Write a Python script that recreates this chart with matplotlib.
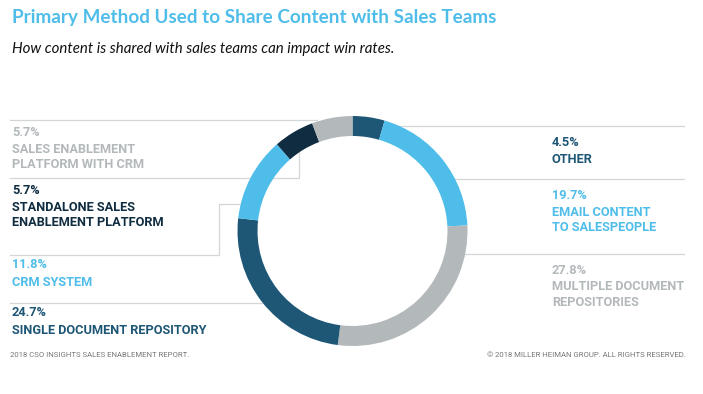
#!/usr/bin/env python3
import matplotlib
matplotlib.use('Agg')
import matplotlib.pyplot as plt

# — DATA —
labels  = ['OTHER', 'EMAIL CONTENT\nTO SALESPEOPLE', 'MULTIPLE DOCUMENT\nREPOSITORIES',
           'SINGLE DOCUMENT REPOSITORY', 'CRM SYSTEM',
           'STANDALONE SALES\nENABLEMENT PLATFORM', 'SALES ENABLEMENT\nPLATFORM WITH CRM']
values  = [4.5, 19.7, 27.8, 24.7, 11.8, 5.7, 5.7]

# — STYLE —
DARK  = '#1e5675'
LIGHT = '#4fbde9'
GREY  = '#b3b9bb'
NAVY  = '#0f2c40'
colors     = [DARK, LIGHT, GREY, DARK, LIGHT, NAVY, GREY]
LINE_C     = '#d3d7d9'
FONT       = 'Roboto'

# label anchors (x, y of percent line) and leader line paths, in pixels
label_pos = [(552, 142), (552, 195), (552, 270),
             (12, 313), (12, 265), (12, 190), (12, 132)]
leaders = [
    [(369, 126), (684, 126)],
    [(447, 179), (684, 179)],
    [(458, 254), (684, 254)],
    [(10, 303), (275, 303)],
    [(10, 255), (219, 255), (219, 204), (252, 204)],
    [(10, 178), (299, 178), (299, 142)],
    [(10, 120), (317, 120)],
]
CENTER = (352.5, 231)
R_OUT  = 115
RING_W = 20
# ————————

fig = plt.figure(figsize=(7.03, 3.94), dpi=100)
ax = fig.add_axes([0, 0, 1, 1])

ax.pie(values, colors=colors, center=CENTER, radius=R_OUT,
       startangle=-90, counterclock=True,
       wedgeprops=dict(width=RING_W, linewidth=0))

ax.set_xlim(0, 703)
ax.set_ylim(394, 0)
ax.set_aspect('equal')
ax.axis('off')

for path in leaders:
    xs, ys = zip(*path)
    ax.plot(xs, ys, color=LINE_C, lw=0.9, zorder=0)

for lab, val, col, (x, y) in zip(labels, values, colors, label_pos):
    ax.text(x, y, f'{val:.1f}%', color=col, fontsize=9.2, fontweight='bold',
            family=FONT, va='center', ha='left')
    for i, line in enumerate(lab.split('\n')):
        ax.text(x, y + 17 + i * 15, line, color=col, fontsize=9.2, fontweight='bold',
                family=FONT, va='center', ha='left')

# titles and footers
ax.text(12, 17, 'Primary Method Used to Share Content with Sales Teams',
        color=LIGHT, fontsize=13.6, fontweight='bold', family='Lato', va='center')
ax.text(12, 49, 'How content is shared with sales teams can impact win rates.',
        color='#111111', fontsize=10.8, style='italic', family='Lato', va='center')
ax.text(10, 355, '2018 CSO INSIGHTS SALES ENABLEMENT REPORT.',
        color='#777777', fontsize=5.6, family=FONT, va='center')
ax.text(686, 355, '© 2018 MILLER HEIMAN GROUP. ALL RIGHTS RESERVED.',
        color='#777777', fontsize=5.6, family=FONT, va='center', ha='right')

plt.savefig('out.png', dpi=100)
